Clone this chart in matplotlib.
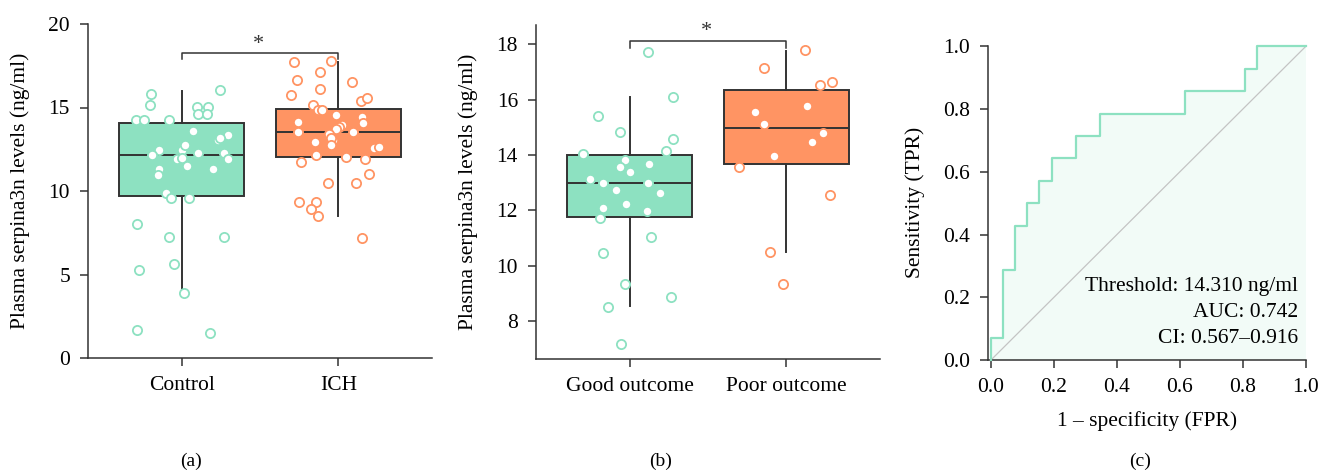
import matplotlib
matplotlib.use("Agg")
import matplotlib.pyplot as plt
import numpy as np

plt.rcParams['font.family'] = ['Liberation Serif', 'DejaVu Serif']
plt.rcParams['font.size'] = 15.5

GREEN = '#8de1c1'
ORANGE = '#ff9463'
DARK = '#333333'
FS = 15.5

# ---------------- data: panel (a) ----------------
a_categories = ['Control', 'ICH']
a_ctrl_y = [14.23, 14.23, 14.23, 15.81, 15.13, 16.03, 15.01, 15.01, 14.63, 14.59,
            9.90, 9.58, 9.58, 8.02, 7.23, 7.23, 5.29, 5.65, 3.89, 1.70, 1.50,
            13.59, 13.33, 13.05, 13.19, 12.46, 12.47, 12.73, 12.13, 12.28, 12.26,
            11.92, 12.00, 11.94, 11.50, 11.30, 10.98, 11.32]
a_ctrl_jit = [-0.295, -0.242, -0.083, -0.195, -0.204, 0.244, 0.094, 0.166, 0.104, 0.164,
              -0.104, -0.072, 0.045, -0.287, -0.079, 0.272, -0.272, -0.047, 0.011, -0.285, 0.178,
              0.072, 0.297, 0.232, 0.246, -0.144, -0.002, 0.021, -0.189, 0.106, 0.270,
              -0.032, 0.0, 0.297, 0.032, -0.144, -0.153, 0.197]
a_ich_y = [17.70, 17.78, 17.14, 16.65, 16.09, 16.55, 15.73, 15.39, 15.55, 15.15, 14.85, 14.85,
           11.74, 11.94, 10.46, 10.48, 11.02, 9.36, 9.36, 8.90, 8.50, 7.19,
           14.15, 13.53, 14.55, 14.45, 14.05, 13.95, 13.81, 13.69, 13.55, 12.95,
           13.39, 13.05, 13.19, 12.73, 12.18, 12.55, 12.63, 12.05]
a_ich_jit = [-0.282, -0.049, -0.115, -0.265, -0.117, 0.091, -0.301, 0.146, 0.187, -0.159, -0.132, -0.104,
             -0.238, 0.172, -0.062, 0.113, 0.199, -0.253, -0.145, -0.174, -0.130, 0.155,
             -0.259, -0.255, -0.017, 0.151, 0.159, 0.023, 0.004, -0.013, 0.096, -0.149,
             -0.057, -0.030, -0.049, -0.045, -0.140, 0.229, 0.263, 0.051]
a_q1 = [9.70, 12.05]
a_med = [12.17, 13.55]
a_q3 = [14.05, 14.90]
a_whislo = [4.05, 8.52]
a_whishi = [16.00, 17.74]

# ---------------- data: panel (b) ----------------
b_categories = ['Good outcome', 'Poor outcome']
b_good_y = [17.71, 16.09, 15.39, 14.81, 14.56, 14.15, 14.05, 11.73, 11.03, 10.45, 9.34, 8.87, 8.52, 7.18,
            13.81, 13.57, 13.68, 13.39, 13.13, 12.98, 12.98, 12.73, 12.62, 12.21, 12.07, 11.96]
b_good_jit = [0.115, 0.273, -0.205, -0.06, 0.273, 0.23, -0.299, -0.19, 0.136, -0.171, -0.028, 0.266, -0.139, -0.054,
              -0.034, -0.062, 0.121, 0.0, -0.254, -0.173, 0.119, -0.09, 0.196, -0.026, -0.173, 0.111]
b_poor_y = [17.77, 17.15, 16.53, 16.64, 13.58, 12.54, 10.48, 9.35,
            15.55, 15.75, 15.12, 14.80, 14.46, 13.97]
b_poor_jit = [0.122, -0.143, 0.219, 0.29, -0.301, 0.282, -0.102, -0.021,
              -0.2, 0.134, -0.145, 0.235, 0.166, -0.077]
b_q1 = [11.77, 13.68]
b_med = [12.99, 14.98]
b_q3 = [13.99, 16.35]
b_whislo = [8.54, 10.50]
b_whishi = [16.08, 17.76]

# ---------------- data: panel (c) ROC ----------------
roc_fpr = [0, 0, 1/26, 1/26, 2/26, 2/26, 3/26, 3/26, 4/26, 4/26, 5/26, 5/26, 7/26, 7/26,
           9/26, 9/26, 16/26, 16/26, 21/26, 21/26, 22/26, 22/26, 1.0]
roc_tpr = [0, 1/14, 1/14, 4/14, 4/14, 6/14, 6/14, 7/14, 7/14, 8/14, 8/14, 9/14, 9/14, 10/14,
           10/14, 11/14, 11/14, 12/14, 12/14, 13/14, 13/14, 1.0, 1.0]
roc_text = ['Threshold: 14.310 ng/ml', 'AUC: 0.742', 'CI: 0.567\u20130.916']

fig = plt.figure(figsize=(13.19, 4.70), dpi=100)


def style_axes(ax):
    for s in ['top', 'right']:
        ax.spines[s].set_visible(False)
    for s in ['left', 'bottom']:
        ax.spines[s].set_color(DARK)
        ax.spines[s].set_linewidth(1.1)
    ax.tick_params(direction='out', length=6, width=1.1, color=DARK, labelsize=FS, pad=7)


def box_panel(ax, cats, q1, med, q3, lo, hi, groups, ylabel):
    stats = []
    for i in range(len(cats)):
        stats.append(dict(med=med[i], q1=q1[i], q3=q3[i], whislo=lo[i], whishi=hi[i], fliers=[]))
    bp = ax.bxp(stats, positions=range(len(cats)), widths=0.8, patch_artist=True,
                showcaps=False, showfliers=False,
                boxprops=dict(edgecolor=DARK, linewidth=1.4),
                medianprops=dict(color=DARK, linewidth=1.4),
                whiskerprops=dict(color=DARK, linewidth=1.4))
    colors = [GREEN, ORANGE]
    for patch, c in zip(bp['boxes'], colors):
        patch.set_facecolor(c)
    for i, (jit, ys) in enumerate(groups):
        xs = i + np.array(jit)
        ax.scatter(xs, ys, s=44, facecolor='white', edgecolor=colors[i], linewidth=1.3, zorder=4)
    ax.set_xticks(range(len(cats)))
    ax.set_xticklabels(cats)
    ax.set_xlim(-0.6, 1.6)
    ax.set_ylabel(ylabel, fontsize=FS)
    style_axes(ax)


# panel (a)
ax1 = fig.add_axes([88/1319, 1-358/470, 344/1319, 334/470])
box_panel(ax1, a_categories, a_q1, a_med, a_q3, a_whislo, a_whishi,
          [(a_ctrl_jit, a_ctrl_y), (a_ich_jit, a_ich_y)], 'Plasma serpina3n levels (ng/ml)')
ax1.set_ylim(0, 20)
ax1.set_yticks([0, 5, 10, 15, 20])
sig_a_low, sig_a_high = 17.88, 18.28
ax1.plot([0, 0, 1, 1], [sig_a_low, sig_a_high, sig_a_high, sig_a_low], color=DARK, lw=1.1, clip_on=False)
ax1.text(0.49, 18.8, '*', ha='center', va='center', fontsize=16, color=DARK)
ax1.yaxis.set_label_coords(-0.169, 0.5)

# panel (b)
ax2 = fig.add_axes([536/1319, 1-358.7/470, 344/1319, 333.4/470])
box_panel(ax2, b_categories, b_q1, b_med, b_q3, b_whislo, b_whishi,
          [(b_good_jit, b_good_y), (b_poor_jit, b_poor_y)], 'Plasma serpina3n levels (ng/ml)')
ax2.set_ylim(6.64, 18.68)
ax2.set_yticks([8, 10, 12, 14, 16, 18])
sig_b_low, sig_b_high = 17.87, 18.10
ax2.plot([0, 0, 1, 1], [sig_b_low, sig_b_high, sig_b_high, sig_b_low], color=DARK, lw=1.1, clip_on=False)
ax2.text(0.49, 18.45, '*', ha='center', va='center', fontsize=16, color=DARK)
ax2.yaxis.set_label_coords(-0.169, 0.5)

# panel (c)
ax3 = fig.add_axes([988/1319, 1-360/470, 317.7/1319, 314.5/470])
ax3.fill_between(roc_fpr, roc_tpr, 0, color='#f2fbf7', lw=0, zorder=1)
ax3.plot([0, 1], [0, 1], color='#c4c4c4', lw=0.9, zorder=2)
ax3.plot(roc_fpr, roc_tpr, color=GREEN, lw=1.6, zorder=3, clip_on=False)
ax3.set_xlim(-0.0095, 1.0)
ax3.set_ylim(0, 1.003)
ax3.set_xticks(np.arange(0, 1.01, 0.2))
ax3.set_yticks(np.arange(0, 1.01, 0.2))
ax3.xaxis.set_major_formatter(matplotlib.ticker.FormatStrFormatter('%.1f'))
ax3.yaxis.set_major_formatter(matplotlib.ticker.FormatStrFormatter('%.1f'))
ax3.set_xlabel('1 \u2013 specificity (FPR)', fontsize=FS)
ax3.set_ylabel('Sensitivity (TPR)', fontsize=FS)
style_axes(ax3)
ax3.yaxis.set_label_coords(-0.198, 0.5)
ax3.xaxis.set_label_coords(0.5, -0.162)
for k, t in enumerate(roc_text):
    ax3.text(0.975, 0.235 - k * 0.083, t, ha='right', va='center', fontsize=FS,
             transform=ax3.transAxes)

# panel letters
fig.text(191/1319, 1-461/470, '(a)', ha='center', va='center', fontsize=14)
fig.text(661/1319, 1-461/470, '(b)', ha='center', va='center', fontsize=14)
fig.text(1140/1319, 1-461/470, '(c)', ha='center', va='center', fontsize=14)

fig.savefig('out.png', dpi=100)
